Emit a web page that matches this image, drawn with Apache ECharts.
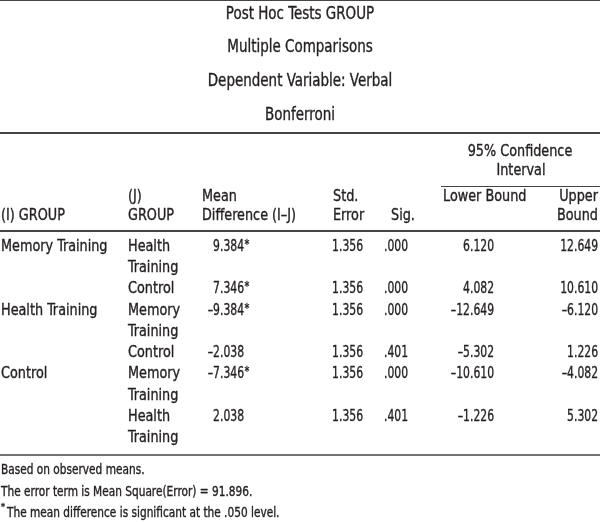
<!DOCTYPE html>
<html><head><meta charset="utf-8">
<script src="https://cdn.jsdelivr.net/npm/echarts@6/dist/echarts.min.js"></script>
<style>html,body{margin:0;padding:0;background:#fff}#c{width:600px;height:522px}</style>
</head><body><div id="c"></div>
<script>
const titleLines = ['Post Hoc Tests GROUP','Multiple Comparisons','Dependent Variable: Verbal','Bonferroni'];
const iGroups = ['Memory Training','','Health Training','','Control',''];
const jGroups = [['Health','Training'],['Control'],['Memory','Training'],['Control'],['Memory','Training'],['Health','Training']];
const meanDiff = [9.384, 7.346, -9.384, -2.038, -7.346, 2.038];
const significant = [true, true, true, false, true, false];
const stdError = [1.356, 1.356, 1.356, 1.356, 1.356, 1.356];
const sigValues = ['.000','.000','.000','.401','.000','.401'];
const lowerBound = [6.120, 4.082, -12.649, -5.302, -10.610, -1.226];
const upperBound = [12.649, 10.610, -6.120, 1.226, -4.082, 5.302];
const footnotes = ['Based on observed means.','The error term is Mean Square(Error) = 91.896.','The mean difference is significant at the .050 level.'];

const FONT = '"DejaVu Sans Condensed","DejaVu Sans","Roboto",sans-serif';
const COL = '#231f20';
const fmt = v => (v < 0 ? '\u2013' : '') + Math.abs(v).toFixed(3);

const els = [];
function txt(s, x, y, align, size, sx) {
  els.push({type:'text', x:x, y:y, scaleX:sx, silent:true,
    style:{text:s, x:0, y:0, fill:COL, stroke:COL, lineWidth:0.35, font:size+'px '+FONT, textAlign:align||'left', textVerticalAlign:'middle'}});
}
const word = (s, x, y, align) => txt(s, x, y, align, 16, 0.89);
const num = (s, x, y, align) => txt(s, x, y, align || 'right', 16, 0.75);
function line(x1, y1, x2, y2, w) {
  els.push({type:'line', silent:true, shape:{x1:x1,y1:y1,x2:x2,y2:y2}, style:{stroke:'#444', lineWidth:w}});
}
// titles
const titleY = [15, 48, 82, 116];
titleLines.forEach((t, i) => txt(t, 300, titleY[i], 'center', 17, 0.88));
line(0, 0.5, 600, 0.5, 1);
line(0, 133, 600, 133, 2);
// header
word('95% Confidence', 520, 152, 'center');
word('Interval', 521, 171, 'center');
line(441, 186.5, 600, 186.5, 1);
word('(J)', 128, 197); word('Mean', 202, 197); word('Std.', 333, 197);
word('Lower Bound', 443, 197); word('Upper', 598, 197, 'right');
word('(I) GROUP', 1, 216); word('GROUP', 128, 216); word('Difference (I\u2013J)', 202, 216);
word('Error', 333, 216); word('Sig.', 391, 216); word('Bound', 598, 216, 'right');
line(0, 231, 600, 231, 2);
// body
const LH = 21.3;
let y = 246.5;
for (let r = 0; r < meanDiff.length; r++) {
  if (iGroups[r]) word(iGroups[r], 1, y);
  jGroups[r].forEach((s, k) => word(s, 128, y + k * LH));
  num(fmt(meanDiff[r]), 244, y);
  if (significant[r]) txt('*', 244.5, y - 2, 'left', 12, 0.9);
  num(stdError[r].toFixed(3), 363, y);
  num(sigValues[r], 408, y);
  num(fmt(lowerBound[r]), 494, y);
  num(fmt(upperBound[r]), 598, y);
  y += LH * jGroups[r].length;
}
line(0, 455, 600, 455, 1.5);
txt(footnotes[0], 1, 470, 'left', 13.5, 0.87);
txt(footnotes[1], 1, 492, 'left', 13.5, 0.87);
txt('*', 1, 508, 'left', 9, 1);
txt(footnotes[2], 7, 513, 'left', 13.5, 0.87);

const chart = echarts.init(document.getElementById('c'), null, {renderer:'canvas'});
chart.setOption({animation:false, backgroundColor:'#fff', graphic:{elements:els}});
</script></body></html>
